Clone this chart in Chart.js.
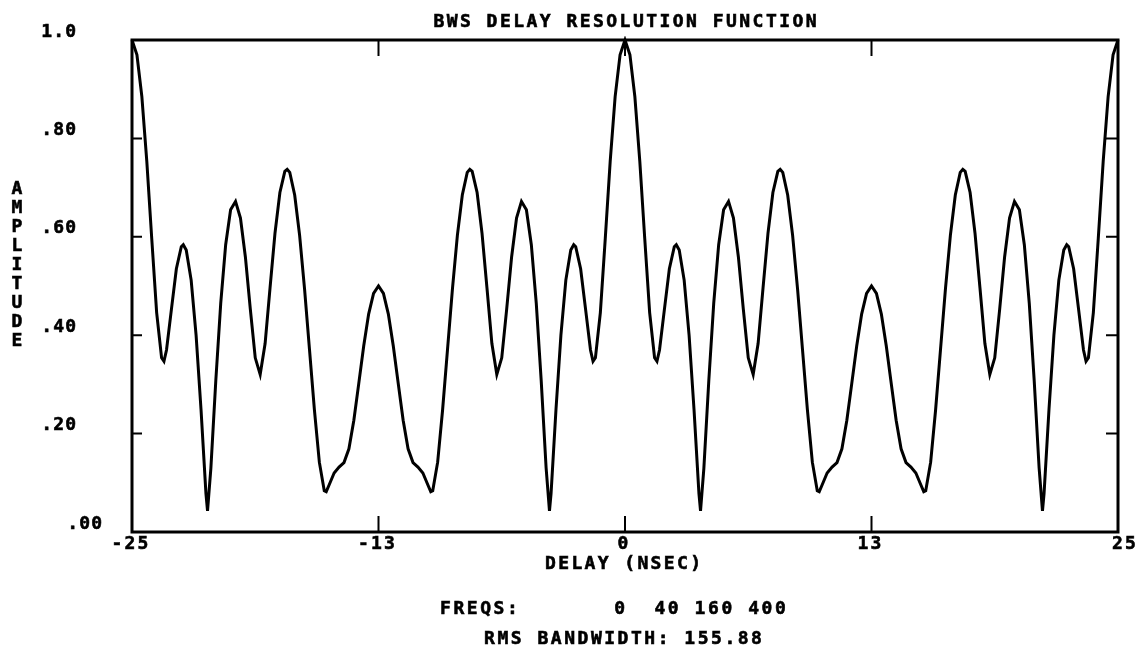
<!DOCTYPE html>
<html>
<head>
<meta charset="utf-8">
<title>BWS Delay Resolution Function</title>
<script src="https://cdn.jsdelivr.net/npm/chart.js@4.4.0/dist/chart.umd.min.js"></script>
<style>
  html, body { margin: 0; padding: 0; background: #fff; }
</style>
</head>
<body>
<canvas id="chart" width="1142" height="662"></canvas>
<script>
// Data (delay in nsec, normalized amplitude)
const delayNs = [
  -25, -24.75, -24.5, -24.25, -24, -23.75, -23.5, -23.38, -23.25, -23,
  -22.75, -22.5, -22.4, -22.25, -22, -21.75, -21.5, -21.25, -21.17, -21,
  -20.75, -20.5, -20.25, -20, -19.75, -19.5, -19.25, -19, -18.75, -18.5,
  -18.25, -18, -17.75, -17.5, -17.25, -17.13, -17, -16.75, -16.5, -16.25,
  -16, -15.75, -15.5, -15.25, -15.15, -15, -14.75, -14.5, -14.25, -14,
  -13.75, -13.5, -13.25, -13, -12.75, -12.5, -12.25, -12, -11.75, -11.5,
  -11.25, -11, -10.75, -10.5, -10.25, -10, -9.85, -9.75, -9.5, -9.25,
  -9, -8.75, -8.5, -8.25, -8, -7.87, -7.75, -7.5, -7.25, -7,
  -6.75, -6.5, -6.25, -6, -5.75, -5.5, -5.25, -5, -4.75, -4.5,
  -4.25, -4, -3.83, -3.75, -3.5, -3.25, -3, -2.75, -2.6, -2.5,
  -2.25, -2, -1.75, -1.62, -1.5, -1.25, -1, -0.75, -0.5, -0.25,
  0,
  0.25, 0.5, 0.75, 1, 1.25, 1.5, 1.62, 1.75, 2, 2.25,
  2.5, 2.6, 2.75, 3, 3.25, 3.5, 3.75, 3.83, 4, 4.25,
  4.5, 4.75, 5, 5.25, 5.5, 5.75, 6, 6.25, 6.5, 6.75,
  7, 7.25, 7.5, 7.75, 7.87, 8, 8.25, 8.5, 8.75, 9,
  9.25, 9.5, 9.75, 9.85, 10, 10.25, 10.5, 10.75, 11, 11.25,
  11.5, 11.75, 12, 12.25, 12.5, 12.75, 13, 13.25, 13.5, 13.75,
  14, 14.25, 14.5, 14.75, 15, 15.15, 15.25, 15.5, 15.75, 16,
  16.25, 16.5, 16.75, 17, 17.13, 17.25, 17.5, 17.75, 18, 18.25,
  18.5, 18.75, 19, 19.25, 19.5, 19.75, 20, 20.25, 20.5, 20.75,
  21, 21.17, 21.25, 21.5, 21.75, 22, 22.25, 22.4, 22.5, 22.75,
  23, 23.25, 23.38, 23.5, 23.75, 24, 24.25, 24.5, 24.75, 25
];
const amplitude = [
  1.000, 0.970, 0.885, 0.754, 0.597, 0.446, 0.354, 0.347, 0.370, 0.453,
  0.535, 0.580, 0.584, 0.573, 0.512, 0.400, 0.249, 0.078, 0.043, 0.130,
  0.308, 0.465, 0.584, 0.655, 0.672, 0.638, 0.559, 0.453, 0.354, 0.320,
  0.383, 0.496, 0.607, 0.690, 0.733, 0.737, 0.731, 0.685, 0.603, 0.494,
  0.371, 0.248, 0.142, 0.084, 0.082, 0.096, 0.120, 0.132, 0.141, 0.169,
  0.227, 0.302, 0.378, 0.443, 0.485, 0.500, 0.485, 0.443, 0.378, 0.302,
  0.227, 0.169, 0.141, 0.132, 0.120, 0.096, 0.082, 0.084, 0.142, 0.248,
  0.371, 0.494, 0.603, 0.685, 0.731, 0.737, 0.733, 0.690, 0.607, 0.496,
  0.383, 0.320, 0.354, 0.453, 0.559, 0.638, 0.672, 0.655, 0.584, 0.465,
  0.308, 0.130, 0.043, 0.078, 0.249, 0.400, 0.512, 0.573, 0.584, 0.580,
  0.535, 0.453, 0.370, 0.347, 0.354, 0.446, 0.597, 0.754, 0.885, 0.970,
  1.000,
  0.970, 0.885, 0.754, 0.597, 0.446, 0.354, 0.347, 0.370, 0.453, 0.535,
  0.580, 0.584, 0.573, 0.512, 0.400, 0.249, 0.078, 0.043, 0.130, 0.308,
  0.465, 0.584, 0.655, 0.672, 0.638, 0.559, 0.453, 0.354, 0.320, 0.383,
  0.496, 0.607, 0.690, 0.733, 0.737, 0.731, 0.685, 0.603, 0.494, 0.371,
  0.248, 0.142, 0.084, 0.082, 0.096, 0.120, 0.132, 0.141, 0.169, 0.227,
  0.302, 0.378, 0.443, 0.485, 0.500, 0.485, 0.443, 0.378, 0.302, 0.227,
  0.169, 0.141, 0.132, 0.120, 0.096, 0.082, 0.084, 0.142, 0.248, 0.371,
  0.494, 0.603, 0.685, 0.731, 0.737, 0.733, 0.690, 0.607, 0.496, 0.383,
  0.320, 0.354, 0.453, 0.559, 0.638, 0.672, 0.655, 0.584, 0.465, 0.308,
  0.130, 0.043, 0.078, 0.249, 0.400, 0.512, 0.573, 0.584, 0.580, 0.535,
  0.453, 0.370, 0.347, 0.354, 0.446, 0.597, 0.754, 0.885, 0.970, 1.000
];

// Axis ticks
const xTickValues = [-25, -12.5, 0, 12.5, 25];
const xTickLabels = ["-25", "-13", "0", "13", "25"];
const yTickValues = [0, 0.2, 0.4, 0.6, 0.8, 1.0];
const yTickLabels = [".00", ".20", ".40", ".60", ".80", "1.0"];

// Text
const titleText = "BWS DELAY RESOLUTION FUNCTION";
const xTitle = "DELAY (NSEC)";
const yTitle = "AMPLITUDE";
const freqs = [0, 40, 160, 400];
const rmsBandwidth = "155.88";

const FONT = "bold 18px 'DejaVu Sans Mono', monospace";
const INK = "#000";

// plotter-style text: every char on a fixed pitch, slightly stroked so it reads heavy
function plotText(ctx, str, x, y, pitch, align) {
  const last = ctx.measureText(str[str.length - 1]).width;
  const total = pitch * (str.length - 1) + last;
  let x0 = x;
  if (align === "center") x0 = x - total / 2;
  else if (align === "right") x0 = x - total;
  for (let i = 0; i < str.length; i++) {
    if (str[i] === " ") continue;
    ctx.fillText(str[i], x0 + i * pitch, y);
    ctx.strokeText(str[i], x0 + i * pitch, y);
  }
}

const plotterFrame = {
  id: "plotterFrame",
  afterDraw(chart) {
    const ctx = chart.ctx;
    const { left, right, top, bottom } = chart.chartArea;
    const xs = chart.scales.x, ys = chart.scales.y;
    ctx.save();

    // frame
    ctx.strokeStyle = INK;
    ctx.lineWidth = 3;
    ctx.strokeRect(left, top, right - left, bottom - top);

    // inward ticks
    ctx.lineWidth = 2;
    ctx.beginPath();
    xTickValues.forEach(v => {
      if (v === xs.min || v === xs.max) return;
      const px = xs.getPixelForValue(v);
      ctx.moveTo(px, bottom); ctx.lineTo(px, bottom - 16);
      ctx.moveTo(px, top); ctx.lineTo(px, top + 16);
    });
    yTickValues.forEach(v => {
      if (v === ys.min || v === ys.max) return;
      const py = ys.getPixelForValue(v);
      ctx.moveTo(left, py); ctx.lineTo(left + 10, py);
      ctx.moveTo(right, py); ctx.lineTo(right - 12, py);
    });
    ctx.stroke();

    // labels
    ctx.fillStyle = INK;
    ctx.lineWidth = 0.6;
    ctx.font = FONT;
    ctx.textAlign = "left";
    ctx.textBaseline = "middle";

    plotText(ctx, titleText, 625, 22, 13.3, "center");

    yTickValues.forEach((v, i) => {
      const py = ys.getPixelForValue(v);
      if (v === 0) plotText(ctx, yTickLabels[i], 102, py - 8, 12, "right");
      else plotText(ctx, yTickLabels[i], 76, py - 8, 12, "right");
    });

    xTickValues.forEach((v, i) => {
      const px = xs.getPixelForValue(v);
      if (i === xTickValues.length - 1) plotText(ctx, xTickLabels[i], px - 6, bottom + 12, 13, "left");
      else plotText(ctx, xTickLabels[i], px - 2, bottom + 12, 13, "center");
    });

    plotText(ctx, xTitle, 623, 564, 13.2, "center");

    // y title, letters stacked
    for (let i = 0; i < yTitle.length; i++) {
      plotText(ctx, yTitle[i], 17, 189 + i * 19.1, 0, "center");
    }

    const freqLine = "FREQS:    " + freqs.map(f => String(f).padStart(4)).join("");
    plotText(ctx, freqLine, 440, 609, 13.4, "left");
    plotText(ctx, "RMS BANDWIDTH: " + rmsBandwidth, 623, 639, 13.35, "center");

    ctx.restore();
  }
};

const points = delayNs.map((d, i) => ({ x: d, y: amplitude[i] }));

new Chart(document.getElementById("chart"), {
  type: "line",
  data: {
    datasets: [{
      data: points,
      borderColor: INK,
      borderWidth: 3,
      pointRadius: 0,
      tension: 0,
      fill: false,
      clip: 4
    }]
  },
  options: {
    responsive: false,
    animation: false,
    events: [],
    layout: { padding: { left: 132, top: 40, right: 24, bottom: 130 } },
    plugins: { legend: { display: false }, tooltip: { enabled: false } },
    scales: {
      x: { type: "linear", min: -25, max: 25, display: false },
      y: { type: "linear", min: 0, max: 1, display: false }
    }
  },
  plugins: [plotterFrame]
});
</script>
</body>
</html>
